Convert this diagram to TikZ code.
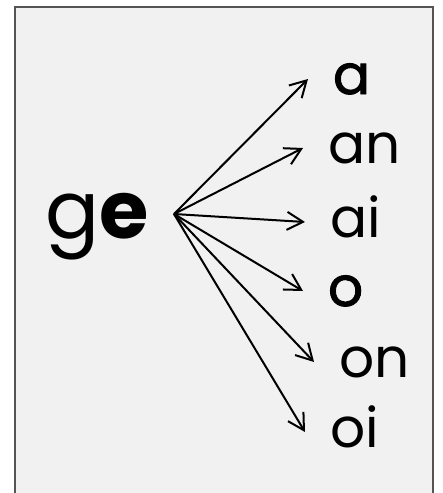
\documentclass[tikz,border=0pt]{standalone}
\usepackage{fontspec}
\setmainfont{Poppins}
\newfontfamily\heavyfont[FakeBold=1.6]{Poppins}
\usetikzlibrary{arrows.meta}
\definecolor{panelfill}{HTML}{F1F1F1}
\definecolor{panelstroke}{HTML}{555555}
\tikzset{
  stem/.style={
    font=\fontsize{80}{80}\selectfont,
    inner sep=0pt,
    text height=44pt,
    text depth=0pt
  },
  ending/.style={
    font=\fontsize{55}{55}\selectfont,
    anchor=west,
    inner sep=0pt,
    outer xsep=25pt,
    text height=30pt,
    text depth=0pt
  },
  branch/.style={
    -{Straight Barb[length=16pt,width=18pt,line width=2pt]},
    line width=2pt,
    draw=black
  }
}

\begin{document}
\begin{tikzpicture}[x=1pt,y=-1pt]
  \useasboundingbox (0,0) rectangle (443,493);
  \path[fill=white] (0,0) rectangle (443,493);
  \path[fill=panelfill] (15,7) rectangle (433,493);
  \draw[panelstroke,line width=2pt] (15,493) -- (15,7) -- (433,7) -- (433,493);

  \node[stem,anchor=east] (ge) at (149,216) {g{\bfseries e}};
  \coordinate (fork) at (174,214);

  \node[ending] (a) at (308,79) {\heavyfont a};
  \node[ending] (an) at (303,148) {an};
  \node[ending] (ai) at (305,222) {ai};
  \node[ending] (o) at (303,291) {\heavyfont o};
  \node[ending] (on) at (314,362) {on};
  \node[ending] (oi) at (305,432) {oi};

  % One arrow per ending.
  \foreach \n in {a,an,ai,o,on,oi}
    \draw[branch] (fork) -- (\n.west);
\end{tikzpicture}
\end{document}
